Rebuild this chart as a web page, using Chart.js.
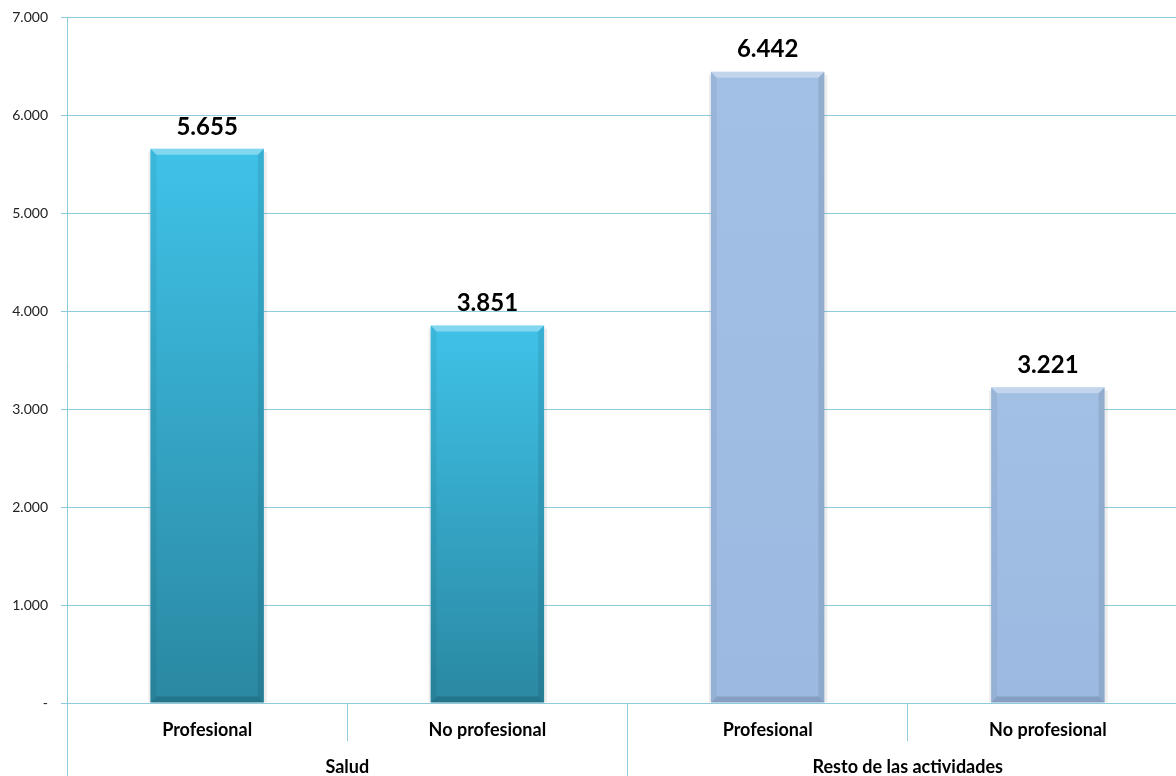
<!DOCTYPE html>
<html>
<head>
<meta charset="utf-8">
<script src="https://cdn.jsdelivr.net/npm/chart.js@4.4.0/dist/chart.umd.min.js"></script>
<style>
html,body{margin:0;padding:0;background:#fff;overflow:hidden;}
#wrap{position:relative;width:1188px;height:776px;}
</style>
</head>
<body>
<div id="wrap"><canvas id="c" width="1188" height="776"></canvas></div>
<script>
const categories = ["Profesional", "No profesional", "Profesional", "No profesional"];
const groups = ["Salud", "Resto de las actividades"];
const values = [5655, 3851, 6442, 3221];
const groupOfBar = [0, 0, 1, 1];
const yTicks = [0, 1000, 2000, 3000, 4000, 5000, 6000, 7000];

const gridColor = '#8FCCDB';
const fmt = v => v === 0 ? '-' : String(v).replace(/\B(?=(\d{3})+(?!\d))/g, '.');

function barFill(ctx) {
  const chart = ctx.chart;
  const i = ctx.dataIndex;
  if (!chart.chartArea || i === undefined) return '#3CB8DC';
  const y = chart.scales.y;
  const top = y.getPixelForValue(values[i]);
  const bot = y.getPixelForValue(0);
  const g = chart.ctx.createLinearGradient(0, bot, 0, top);
  if (groupOfBar[i] === 0) {
    g.addColorStop(0, '#2A88A2');
    g.addColorStop(1, '#3FC2E8');
  } else {
    g.addColorStop(0, '#9CBAE1');
    g.addColorStop(1, '#A2BFE4');
  }
  return g;
}

const bevel = {
  id: 'bevel',
  afterDatasetsDraw(chart) {
    const ctx = chart.ctx;
    const meta = chart.getDatasetMeta(0);
    meta.data.forEach((bar) => {
      const l = bar.x - bar.width / 2, r = bar.x + bar.width / 2;
      const t = bar.y, b = bar.base, d = 6;
      ctx.save();
      ctx.fillStyle = 'rgba(255,255,255,0.35)';
      ctx.beginPath();
      ctx.moveTo(l, t); ctx.lineTo(r, t); ctx.lineTo(r - d, t + d); ctx.lineTo(l + d, t + d); ctx.closePath(); ctx.fill();
      ctx.fillStyle = 'rgba(0,0,0,0.05)';
      ctx.beginPath();
      ctx.moveTo(l, t); ctx.lineTo(l + d, t + d); ctx.lineTo(l + d, b - d); ctx.lineTo(l, b); ctx.closePath(); ctx.fill();
      ctx.fillStyle = 'rgba(0,0,0,0.09)';
      ctx.beginPath();
      ctx.moveTo(r, t); ctx.lineTo(r - d, t + d); ctx.lineTo(r - d, b - d); ctx.lineTo(r, b); ctx.closePath(); ctx.fill();
      ctx.fillStyle = 'rgba(0,0,0,0.14)';
      ctx.beginPath();
      ctx.moveTo(l, b); ctx.lineTo(l + d, b - d); ctx.lineTo(r - d, b - d); ctx.lineTo(r, b); ctx.closePath(); ctx.fill();
      ctx.fillStyle = 'rgba(0,0,0,0.07)';
      ctx.fillRect(r, t + 3, 3, b - t - 3);
      ctx.fillRect(l - 2, t + 3, 2, b - t - 3);
      ctx.restore();
    });
  }
};

const dataLabels = {
  id: 'dataLabels',
  afterDatasetsDraw(chart) {
    const ctx = chart.ctx;
    const meta = chart.getDatasetMeta(0);
    ctx.save();
    ctx.font = 'bold 24px Lato';
    ctx.fillStyle = '#000';
    ctx.textAlign = 'center';
    ctx.textBaseline = 'middle';
    meta.data.forEach((bar, i) => {
      ctx.fillText(fmt(values[i]), bar.x, bar.y - 22);
    });
    ctx.restore();
  }
};

new Chart(document.getElementById('c'), {
  type: 'bar',
  data: {
    labels: categories,
    datasets: [{
      data: values,
      backgroundColor: barFill,
      borderWidth: 0,
      categoryPercentage: 0.405,
      barPercentage: 1
    }]
  },
  options: {
    responsive: false,
    animation: false,
    events: [],
    layout: { padding: { top: 17, left: 0, right: 0, bottom: 0 } },
    plugins: { legend: { display: false }, tooltip: { enabled: false } },
    scales: {
      y: {
        min: 0, max: 7000,
        afterBuildTicks: s => { s.ticks = yTicks.map(v => ({ value: v })); },
        afterFit: s => { s.width = 67; s.paddingTop = 0; s.paddingBottom = 0; },
        grid: { color: gridColor, tickLength: 6, lineWidth: 1 },
        border: { color: gridColor },
        ticks: { callback: v => fmt(v), color: '#222', font: { family: 'Lato', size: 14 }, padding: 13 }
      },
      x: {
        position: 'bottom',
        afterFit: s => { s.height = 38; s.paddingLeft = 0; s.paddingRight = 0; },
        grid: { offset: true, drawOnChartArea: false, drawTicks: true, tickLength: 38, color: gridColor },
        border: { display: false },
        ticks: { color: '#000', font: { family: 'Lato', size: 18, weight: 'bold' }, padding: -22, maxRotation: 0 }
      },
      x2: {
        type: 'category',
        labels: groups,
        position: 'bottom',
        afterFit: s => { s.height = 35; s.paddingLeft = 0; s.paddingRight = 0; },
        grid: { offset: true, drawOnChartArea: false, drawTicks: true, tickLength: 35, color: gridColor },
        border: { display: false },
        ticks: { color: '#000', font: { family: 'Lato', size: 18, weight: 'bold' }, padding: -20, maxRotation: 0 }
      }
    }
  },
  plugins: [bevel, dataLabels]
});
</script>
</body>
</html>
